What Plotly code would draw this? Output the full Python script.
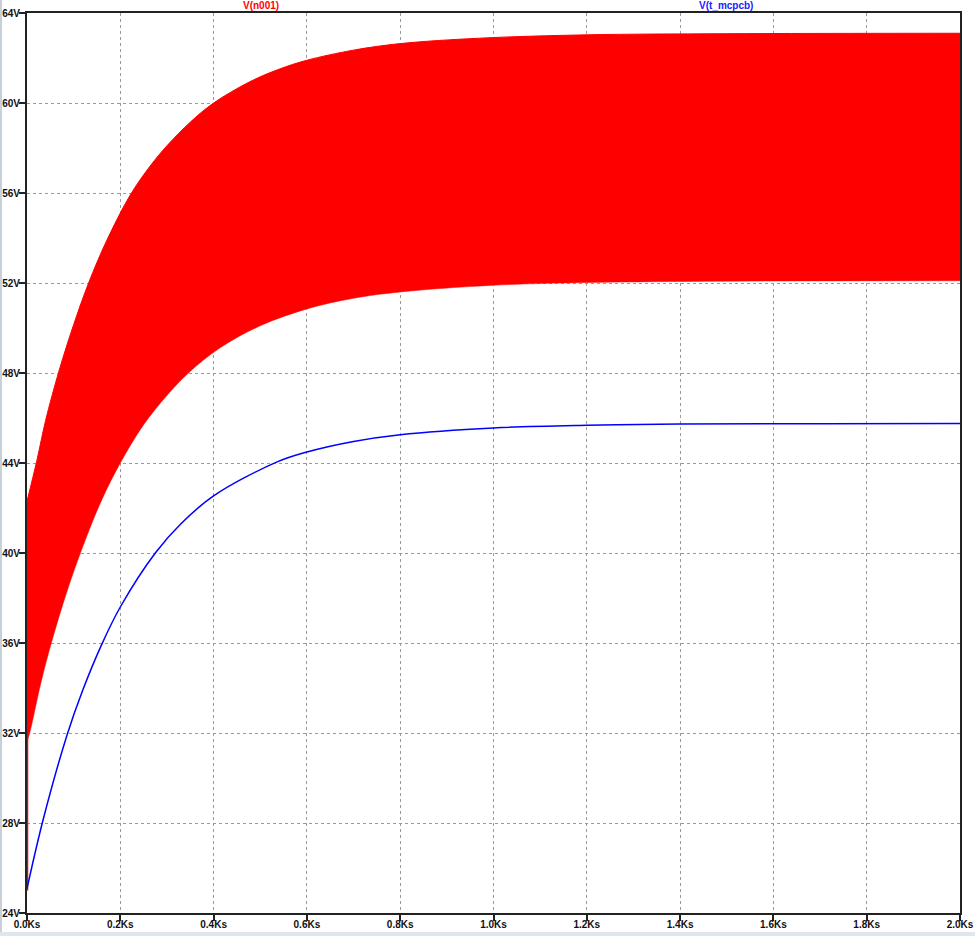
import plotly.graph_objects as go

# ---- data (time in Ks, voltage in V) ----
upper_t = [0.0, 0.021, 0.04, 0.068, 0.10, 0.132, 0.17, 0.221, 0.264, 0.30, 0.35,
           0.40, 0.478, 0.54, 0.60, 0.70, 0.80, 0.97, 1.2, 1.5, 2.0]
upper_v = [42.3, 44.1, 45.9, 48.05, 50.15, 52.0, 53.85, 55.9, 57.2, 58.1, 59.15,
           60.0, 60.95, 61.5, 61.9, 62.35, 62.64, 62.88, 63.03, 63.08, 63.1]

lower_t = [0.0, 0.007, 0.03, 0.0535, 0.085, 0.118, 0.16, 0.20, 0.25, 0.30, 0.346,
           0.414, 0.50, 0.60, 0.70, 0.80, 1.0, 1.2, 1.5, 2.0]
lower_v = [31.6, 32.1, 34.25, 36.1, 38.25, 40.2, 42.35, 44.0, 45.7, 47.0, 48.0,
           49.12, 50.1, 50.85, 51.32, 51.6, 51.9, 52.02, 52.08, 52.1]

start_t = [0.0, 0.0]
start_v = [25.0, 42.3]

blue_t = [0.0, 0.034, 0.0857, 0.12, 0.16, 0.2, 0.275, 0.33, 0.4, 0.535, 0.6,
          0.7, 0.8, 1.0, 1.2, 1.4, 1.7, 2.0]
blue_v = [25.08, 28.1, 31.9, 33.93, 35.93, 37.6, 40.0, 41.3, 42.54, 44.04, 44.49,
          44.96, 45.26, 45.56, 45.68, 45.73, 45.75, 45.76]

x_tickvals = [0.0, 0.2, 0.4, 0.6, 0.8, 1.0, 1.2, 1.4, 1.6, 1.8, 2.0]
x_ticktext = ["0.0Ks", "0.2Ks", "0.4Ks", "0.6Ks", "0.8Ks", "1.0Ks",
              "1.2Ks", "1.4Ks", "1.6Ks", "1.8Ks", "2.0Ks"]
y_tickvals = [24, 28, 32, 36, 40, 44, 48, 52, 56, 60, 64]
y_ticktext = ["24V", "28V", "32V", "36V", "40V", "44V", "48V", "52V", "56V", "60V", "64V"]

RED = "#ff0000"
BLUE = "#0000ff"
FONT = "Liberation Sans"

fig = go.Figure()
fig.add_trace(go.Scatter(x=lower_t, y=lower_v, mode="lines",
                         line=dict(color=RED, width=0.5, shape="spline", smoothing=1.0),
                         showlegend=False, hoverinfo="skip"))
fig.add_trace(go.Scatter(x=upper_t, y=upper_v, mode="lines", fill="tonexty",
                         fillcolor=RED,
                         line=dict(color=RED, width=1, shape="spline", smoothing=1.0),
                         showlegend=False, name="V(n001)"))
fig.add_trace(go.Scatter(x=start_t, y=start_v, mode="lines",
                         line=dict(color=RED, width=2.5),
                         showlegend=False, hoverinfo="skip"))
fig.add_trace(go.Scatter(x=blue_t, y=blue_v, mode="lines",
                         line=dict(color=BLUE, width=1.5, shape="spline", smoothing=1.0),
                         showlegend=False, name="V(t_mcpcb)"))

axis_common = dict(
    showline=True, mirror=True, linecolor="#222222", linewidth=2,
    showgrid=True, gridcolor="#9a9a9a", griddash="dot", gridwidth=1,
    ticks="outside", ticklen=6, tickwidth=2, tickcolor="#222222",
    zeroline=False, layer="below traces", automargin=False,
    tickfont=dict(family=FONT, size=10, color="#111111", weight="bold"),
)

fig.update_xaxes(range=[0, 2.0], tickvals=x_tickvals, ticktext=x_ticktext,
                 ticklabelstandoff=-5, **axis_common)
fig.update_yaxes(range=[24, 64], tickvals=y_tickvals, ticktext=y_ticktext,
                 ticklabelstandoff=-3, **axis_common)

fig.update_layout(
    width=975, height=936,
    margin=dict(l=27, r=15, t=13, b=23, pad=0, autoexpand=False),
    paper_bgcolor="white", plot_bgcolor="white",
    showlegend=False,
    annotations=[
        dict(text="V(n001)", x=0.2508, y=1.0078, xref="paper", yref="paper",
             showarrow=False, xanchor="center", yanchor="middle",
             font=dict(family=FONT, size=10, color=RED, weight="bold")),
        dict(text="V(t_mcpcb)", x=0.7497, y=1.0078, xref="paper", yref="paper",
             showarrow=False, xanchor="center", yanchor="middle",
             font=dict(family=FONT, size=10, color="#2020ff", weight="bold")),
    ],
    shapes=[
        dict(type="rect", xref="paper", yref="paper", x0=-0.0290, x1=-0.0268,
             y0=-0.0256, y1=1.0145, fillcolor="#c8d0da", line=dict(width=0),
             layer="below"),
        dict(type="rect", xref="paper", yref="paper", x0=-0.0290, x1=1.0161,
             y0=-0.0256, y1=-0.0211, fillcolor="#dfe6ee", line=dict(width=0),
             layer="below"),
    ],
)

# remove the default 8px page margin so the figure sits at the window's corner
fig.write_html("out.html", config={"displayModeBar": False},
               post_script="document.body.style.margin='0';")
